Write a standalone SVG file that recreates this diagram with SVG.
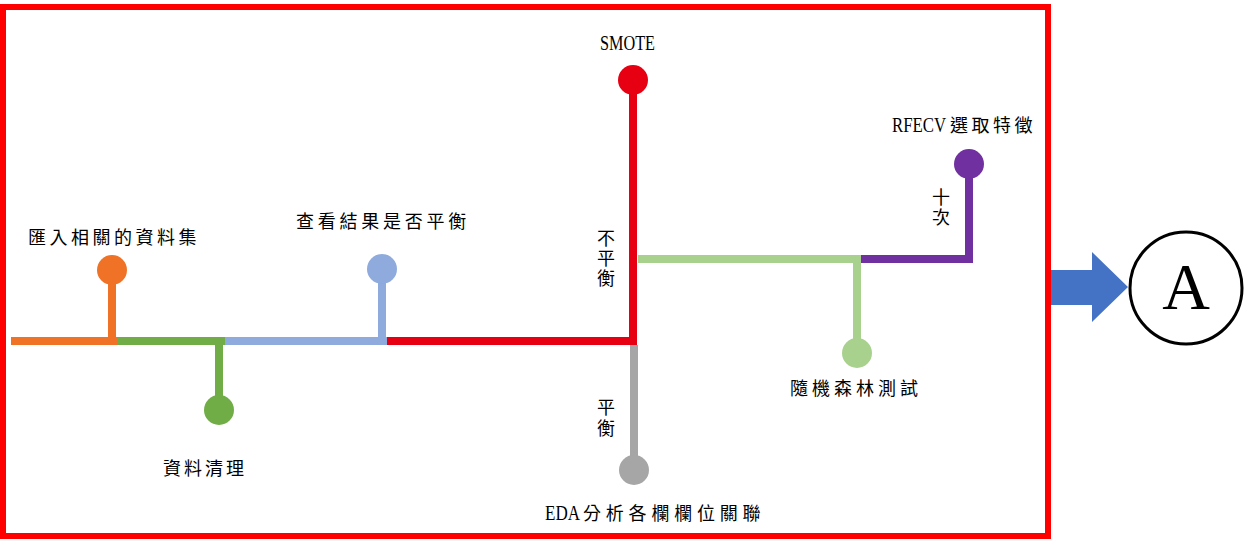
<svg xmlns="http://www.w3.org/2000/svg" width="1246" height="542" viewBox="0 0 1246 542">
<style>
text{font-family:"Liberation Serif","Noto Sans CJK TC",serif;font-size:18px;fill:#000}
.ln{fill:none;stroke-width:8;stroke-linecap:butt}
.v{text-anchor:middle}
</style>
<rect width="1246" height="542" fill="#fff"/>
<rect id="frame" x="3" y="7" width="1045" height="529" fill="none" stroke="#ff0000" stroke-width="6"/>
<g id="connectors">
<line class="ln" x1="11" y1="341" x2="117" y2="341" stroke="#f07226"/>
<line class="ln" x1="112" y1="341" x2="112" y2="270" stroke="#f07226"/>
<line class="ln" x1="117" y1="341" x2="225" y2="341" stroke="#70ad47"/>
<line class="ln" x1="219" y1="341" x2="219" y2="410" stroke="#70ad47"/>
<line class="ln" x1="225" y1="341" x2="387" y2="341" stroke="#8faadc"/>
<line class="ln" x1="382" y1="341" x2="382" y2="269" stroke="#8faadc"/>
<line class="ln" x1="387" y1="341" x2="637" y2="341" stroke="#e60012"/>
<line class="ln" x1="633" y1="345" x2="633" y2="80" stroke="#e60012"/>
<line class="ln" x1="634" y1="345" x2="634" y2="470" stroke="#a6a6a6"/>
<line class="ln" x1="638" y1="259" x2="862" y2="259" stroke="#a9d18e"/>
<line class="ln" x1="857" y1="259" x2="857" y2="353" stroke="#a9d18e"/>
<polyline class="ln" points="861,259 969,259 969,164" stroke="#7030a0"/>
<polygon points="1051,270 1092,270 1092,252 1128,287 1092,322 1092,305 1051,305" fill="#4472c4"/>
</g>
<g id="n1"><circle cx="112" cy="270" r="15" fill="#f07226"/><text x="28" y="244" letter-spacing="3.5">匯入相關的資料集</text></g>
<g id="n2"><circle cx="219" cy="410" r="15" fill="#70ad47"/><text x="163" y="475" letter-spacing="3">資料清理</text></g>
<g id="n3"><circle cx="382" cy="269" r="15" fill="#8faadc"/><text x="296" y="228" letter-spacing="3.75">查看結果是否平衡</text></g>
<g id="n4"><circle cx="633" cy="80" r="15" fill="#e60012"/><text x="600" y="50" style="font-size:21px" textLength="55" lengthAdjust="spacingAndGlyphs">SMOTE</text></g>
<g id="n5"><circle cx="634" cy="470" r="15" fill="#a6a6a6"/><text x="545" y="520"><tspan textLength="35" lengthAdjust="spacingAndGlyphs" style="font-size:20px">EDA</tspan><tspan x="583" letter-spacing="4.8">分析各欄欄位關聯</tspan></text></g>
<g id="n6"><circle cx="857" cy="353" r="15" fill="#a9d18e"/><text x="790" y="395" letter-spacing="4">隨機森林測試</text></g>
<g id="n7"><circle cx="969" cy="164" r="15" fill="#7030a0"/><text x="892" y="132" style="font-size:20px" textLength="54" lengthAdjust="spacingAndGlyphs">RFECV</text><text x="950" y="132" letter-spacing="3.5">選取特徵</text></g>
<g id="lbl-unbal"><text class="v" x="606" y="245">不</text><text class="v" x="606" y="265">平</text><text class="v" x="606" y="285">衡</text></g>
<g id="lbl-bal"><text class="v" x="606" y="414">平</text><text class="v" x="606" y="435">衡</text></g>
<g id="lbl-ten"><text class="v" x="941" y="204">十</text><text class="v" x="941" y="224">次</text></g>
<g id="nA"><circle cx="1186" cy="288" r="56" fill="#fff" stroke="#000" stroke-width="3"/><text x="1186" y="309" text-anchor="middle" style="font-size:66px">A</text></g>
</svg>
